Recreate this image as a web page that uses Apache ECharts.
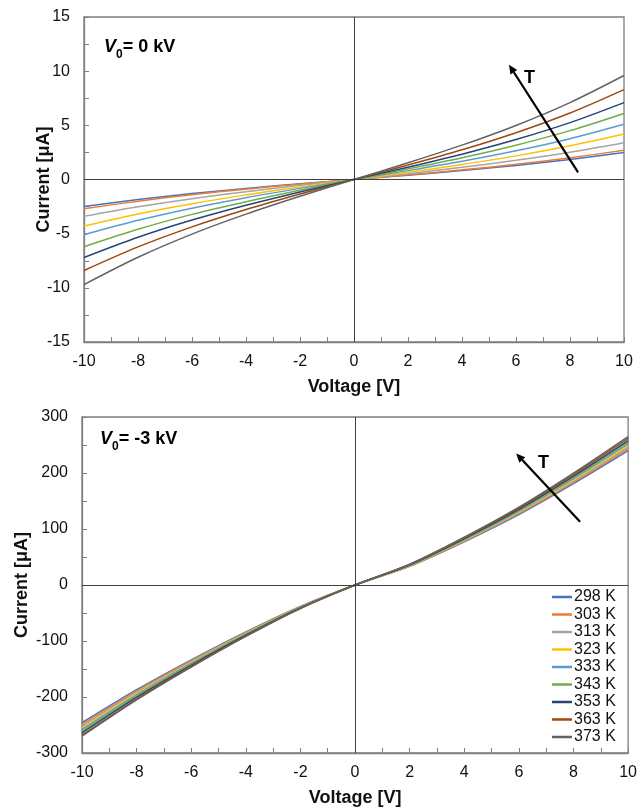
<!DOCTYPE html>
<html><head><meta charset="utf-8">
<script src="https://cdn.jsdelivr.net/npm/echarts@6/dist/echarts.min.js"></script>
<style>html,body{margin:0;padding:0;background:#fff}#c{width:640px;height:808px}</style>
</head><body><div id="c"></div>
<script>
// ---- data ----
const voltage = [-10, -8, -6, -4, -2, 0, 2, 4, 6, 8, 10];
const temperatures = ['298 K', '303 K', '313 K', '323 K', '333 K', '343 K', '353 K', '363 K', '373 K'];
const xTicks = [-10, -8, -6, -4, -2, 0, 2, 4, 6, 8, 10];
const yTicksTop = [-15, -10, -5, 0, 5, 10, 15];
const yTicksBottom = [-300, -200, -100, 0, 100, 200, 300];

// V0 = 0 kV, current in µA
const top298 = [-2.5, -1.85, -1.30, -0.83, -0.40, 0, 0.40, 0.83, 1.30, 1.85, 2.5];
const top303 = [-2.7, -2.00, -1.40, -0.89, -0.43, 0, 0.43, 0.89, 1.40, 2.00, 2.7];
const top313 = [-3.4, -2.52, -1.77, -1.12, -0.54, 0, 0.54, 1.12, 1.77, 2.52, 3.4];
const top323 = [-4.3, -3.18, -2.24, -1.42, -0.69, 0, 0.67, 1.39, 2.18, 3.11, 4.2];
const top333 = [-5.1, -3.77, -2.65, -1.68, -0.82, 0, 0.82, 1.68, 2.65, 3.77, 5.1];
const top343 = [-6.2, -4.59, -3.22, -2.05, -0.99, 0, 0.98, 2.01, 3.17, 4.51, 6.1];
const top353 = [-7.2, -5.33, -3.74, -2.38, -1.15, 0, 1.14, 2.34, 3.69, 5.25, 7.1];
const top363 = [-8.4, -6.22, -4.37, -2.77, -1.34, 0, 1.33, 2.74, 4.32, 6.14, 8.3];
const top373 = [-9.7, -7.18, -5.04, -3.20, -1.55, 0, 1.54, 3.17, 4.99, 7.10, 9.6];

// V0 = -3 kV, current in µA
const bot298 = [-246, -187.0, -133.6, -83.6, -38.1, 0, 33.6, 77.3, 125.8, 181.0, 240];
const bot303 = [-249, -189.2, -135.2, -84.7, -38.6, 0, 34.0, 78.2, 127.3, 183.2, 243];
const bot313 = [-252, -191.5, -136.8, -85.7, -39.1, 0, 34.4, 79.2, 128.9, 185.5, 246];
const bot323 = [-255, -193.8, -138.5, -86.7, -39.5, 0, 34.9, 80.2, 130.5, 187.7, 249];
const bot333 = [-258, -196.1, -140.1, -87.7, -40.0, 0, 35.3, 81.1, 132.0, 190.0, 252];
const bot343 = [-261, -198.4, -141.7, -88.7, -40.5, 0, 35.7, 82.1, 133.6, 192.3, 255];
const bot353 = [-264, -200.6, -143.4, -89.8, -40.9, 0, 36.1, 83.1, 135.2, 194.5, 258];
const bot363 = [-268, -203.7, -145.5, -91.1, -41.5, 0, 36.7, 84.4, 137.3, 197.5, 262];
const bot373 = [-270, -205.2, -146.6, -91.8, -41.9, 0, 37.1, 85.3, 138.9, 199.8, 265];

const colors = ['#4472C4', '#ED7D31', '#A5A5A5', '#FFC000', '#5B9BD5', '#70AD47', '#264478', '#9E480E', '#636363'];

const topSets = [top298, top303, top313, top323, top333, top343, top353, top363, top373];
const botSets = [bot298, bot303, bot313, bot323, bot333, bot343, bot353, bot363, bot373];

// ---- chart ----
const FONT = "'Liberation Sans', Arial, sans-serif";
const chart = echarts.init(document.getElementById('c'), null, {renderer: 'canvas'});

function xAxisCfg(gi) {
  return {
    type: 'value', gridIndex: gi, min: -10, max: 10, interval: 2,
    axisLine: {onZero: false, lineStyle: {color: '#7f7f7f', width: 1.3}},
    axisTick: {inside: true, length: 5, lineStyle: {color: '#7f7f7f'}},
    minorTick: {show: true, splitNumber: 2, length: 5, lineStyle: {color: '#7f7f7f'}},
    splitLine: {show: false},
    axisLabel: {color: '#111', fontSize: 16, fontFamily: FONT, margin: 12},
    name: 'Voltage [V]', nameLocation: 'middle', nameGap: 36, nameMoveOverlap: false,
    nameTextStyle: {color: '#111', fontSize: 18, fontWeight: 'bold', fontFamily: FONT}
  };
}
function yAxisCfg(gi, min, max, interval, gap) {
  return {
    type: 'value', gridIndex: gi, min: min, max: max, interval: interval,
    axisLine: {show: true, onZero: false, lineStyle: {color: '#7f7f7f', width: 1.3}},
    axisTick: {show: true, inside: true, length: 5, lineStyle: {color: '#7f7f7f'}},
    minorTick: {show: true, splitNumber: 2, length: 5, lineStyle: {color: '#7f7f7f'}},
    splitLine: {show: false},
    axisLabel: {color: '#111', fontSize: 16, fontFamily: FONT, margin: 14},
    name: 'Current [μA]', nameLocation: 'middle', nameGap: gap, nameRotate: 90, nameMoveOverlap: false,
    nameTextStyle: {color: '#111', fontSize: 18, fontWeight: 'bold', fontFamily: FONT}
  };
}

const series = [];
temperatures.forEach((t, k) => {
  series.push({
    name: t, type: 'line', xAxisIndex: 0, yAxisIndex: 0, symbol: 'none', smooth: 0.3,
    lineStyle: {width: 1.5, color: colors[k]}, itemStyle: {color: colors[k]},
    data: voltage.map((v, i) => [v, topSets[k][i]]), z: 3
  });
});
temperatures.forEach((t, k) => {
  series.push({
    name: t, type: 'line', xAxisIndex: 1, yAxisIndex: 1, symbol: 'none', smooth: 0.3,
    lineStyle: {width: 1.5, color: colors[k]}, itemStyle: {color: colors[k]},
    data: voltage.map((v, i) => [v, botSets[k][i]]), z: 3
  });
});
const zeroLines = {
  silent: true, symbol: 'none', label: {show: false}, animation: false,
  lineStyle: {color: '#404040', width: 1, type: 'solid'},
  data: [{xAxis: 0}, {yAxis: 0}]
};
series[0].markLine = zeroLines;
series[9].markLine = zeroLines;

chart.setOption({
  animation: false,
  backgroundColor: '#fff',
  color: colors,
  grid: [
    {left: 84, right: 16, top: 17, height: 325, show: true, borderColor: '#7f7f7f', borderWidth: 1.3, backgroundColor: 'transparent'},
    {left: 82, right: 11, top: 417, height: 338, show: true, borderColor: '#7f7f7f', borderWidth: 1.3, backgroundColor: 'transparent'}
  ],
  xAxis: [xAxisCfg(0), xAxisCfg(1)],
  yAxis: [yAxisCfg(0, -15, 15, 5, 31), yAxisCfg(1, -300, 300, 100, 51)],
  legend: {
    data: temperatures, orient: 'vertical', left: 552, top: 589,
    icon: 'rect', itemWidth: 20, itemHeight: 2.5, itemGap: 1.5, padding: 0,
    textStyle: {fontSize: 16, fontFamily: FONT, color: '#111', padding: [0, 0, 0, -3]},
    selectedMode: false
  },
  series: series
});

function arrow(gi, p0, p1) {
  const a = chart.convertToPixel({gridIndex: gi}, p0);
  const b = chart.convertToPixel({gridIndex: gi}, p1);
  const dx = b[0] - a[0], dy = b[1] - a[1];
  const L = Math.hypot(dx, dy), ux = dx / L, uy = dy / L;
  const hl = 9, hw = 4;
  const bx = b[0] - ux * hl, by = b[1] - uy * hl;
  return [
    {type: 'line', shape: {x1: a[0], y1: a[1], x2: bx, y2: by}, style: {stroke: '#000', lineWidth: 2.2}, z: 10},
    {type: 'polygon', shape: {points: [[b[0], b[1]], [bx - uy * hw, by + ux * hw], [bx + uy * hw, by - ux * hw]]}, style: {fill: '#000'}, z: 10}
  ];
}
function label(gi, p, txt) {
  const q = chart.convertToPixel({gridIndex: gi}, p);
  return {type: 'text', x: q[0], y: q[1], z: 10,
    style: {text: txt, fontSize: 18, fontWeight: 'bold', fontFamily: FONT, fill: '#000', align: 'center', verticalAlign: 'middle'}};
}
function vlabel(x, y, rest) {
  return {type: 'text', x: x, y: y, z: 10,
    style: {
      text: '{v|V}{s|0}{n|' + rest + '}', fontFamily: FONT, verticalAlign: 'middle', align: 'left',
      rich: {
        v: {fontSize: 18, fontWeight: 'bold', fontStyle: 'italic', fontFamily: FONT, fill: '#000', verticalAlign: 'bottom', lineHeight: 20},
        s: {fontSize: 12, fontWeight: 'bold', fontFamily: FONT, fill: '#000', verticalAlign: 'bottom', lineHeight: 14, padding: [0, 0, -5, 0]},
        n: {fontSize: 18, fontWeight: 'bold', fontFamily: FONT, fill: '#000', verticalAlign: 'bottom', lineHeight: 20}
      }
    }};
}

const graphics = []
  .concat(arrow(0, [8.3, 0.65], [5.74, 10.6]))
  .concat([label(0, [6.5, 9.35], 'T')])
  .concat(arrow(1, [8.24, 113], [5.9, 235]))
  .concat([label(1, [6.9, 218], 'T')])
  .concat([vlabel(104, 46, '= 0 kV'), vlabel(100, 438, '= -3 kV')]);
chart.setOption({graphic: graphics});
</script>
</body></html>
